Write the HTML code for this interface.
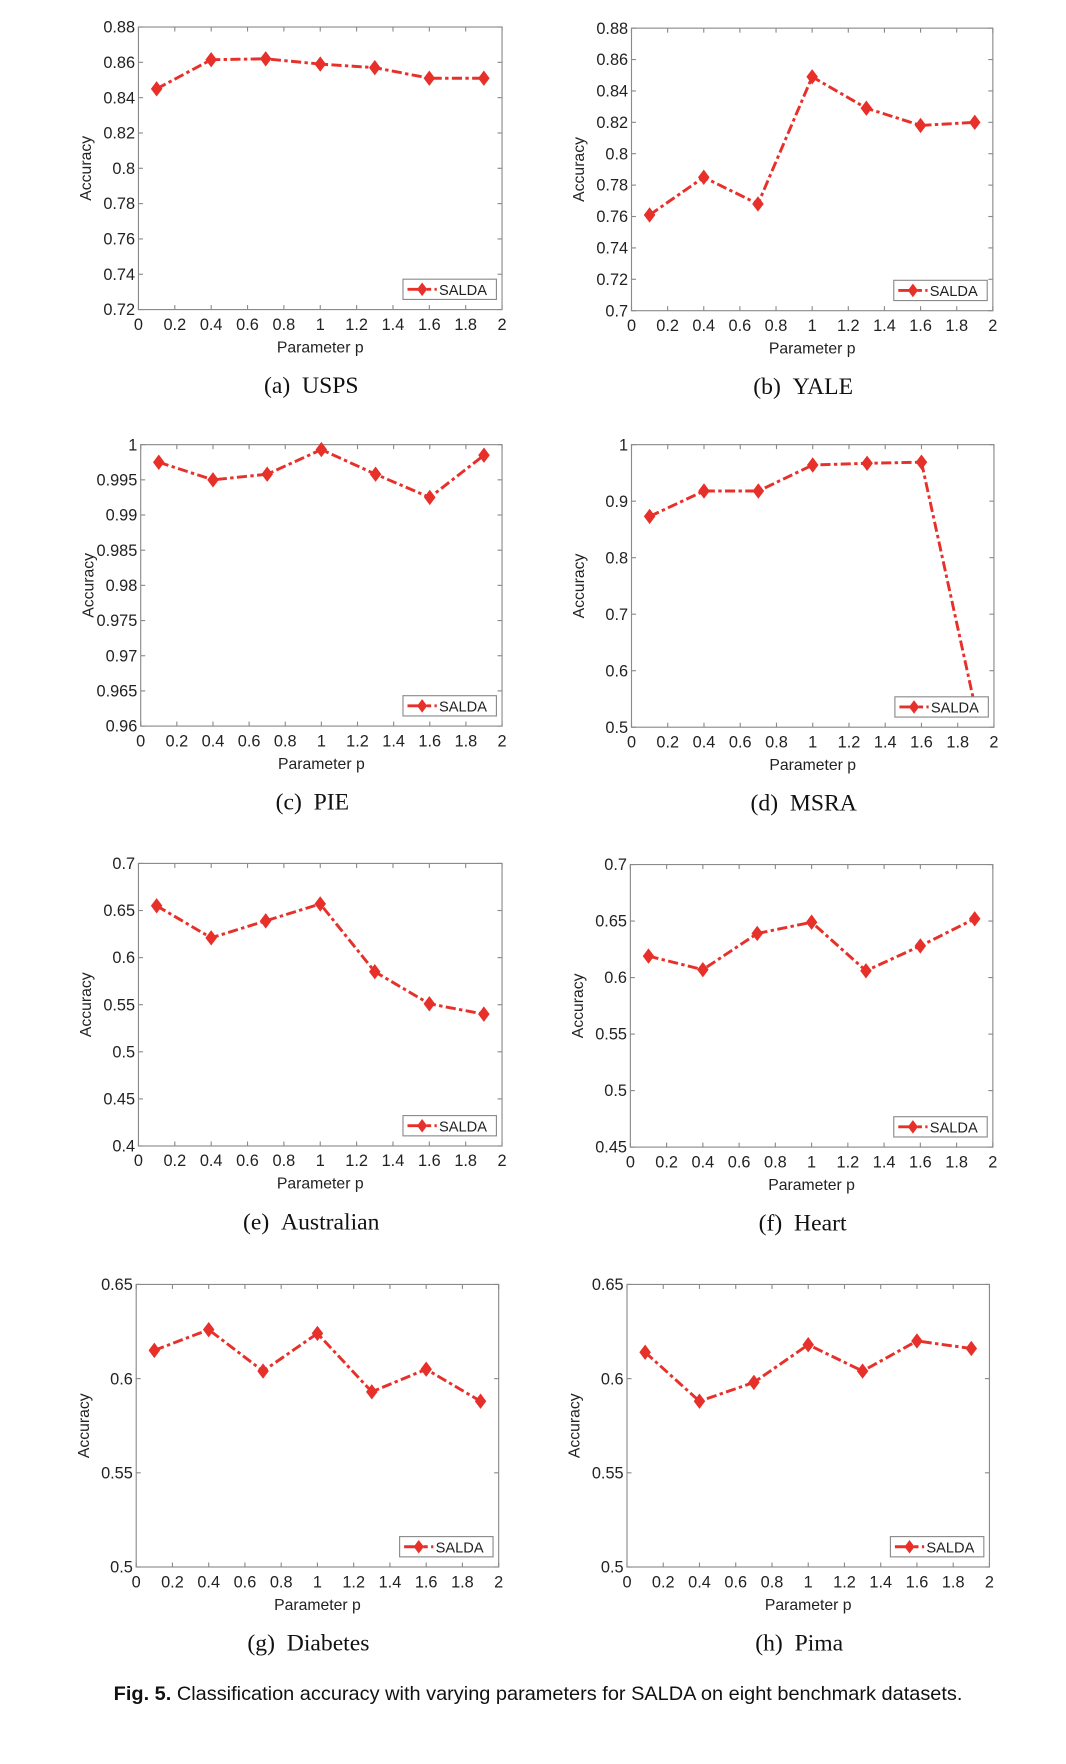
<!DOCTYPE html>
<html><head><meta charset="utf-8"><style>
html,body{margin:0;padding:0;background:#fff}
svg{display:block}
</style></head><body>
<svg id="fig" width="1066" height="1764" viewBox="0 0 947 1567" preserveAspectRatio="none" xmlns="http://www.w3.org/2000/svg">
<text x="101" y="1510" textLength="754" lengthAdjust="spacingAndGlyphs" font-family="'Liberation Sans',sans-serif" font-size="17" fill="#111"><tspan font-weight="bold">Fig. 5.</tspan> Classification accuracy with varying parameters for SALDA on eight benchmark datasets.</text>
</svg>
<script>
const xs = [0.1,0.4,0.7,1.0,1.3,1.6,1.9];
const accUSPS = [0.845,0.8615,0.862,0.859,0.857,0.851,0.851];
const accYALE = [0.761,0.785,0.768,0.849,0.829,0.818,0.820];
const accPIE = [0.9975,0.995,0.9958,0.9993,0.9958,0.9925,0.9985];
const accMSRA = [0.873,0.918,0.918,0.964,0.967,0.969,0.53];
const accAustralian = [0.655,0.621,0.639,0.657,0.585,0.551,0.540];
const accHeart = [0.619,0.607,0.639,0.649,0.606,0.628,0.652];
const accDiabetes = [0.615,0.626,0.604,0.624,0.593,0.605,0.588];
const accPima = [0.614,0.588,0.598,0.618,0.604,0.620,0.616];
const xTicks = [0,0.2,0.4,0.6,0.8,1,1.2,1.4,1.6,1.8,2];
const yTicksA = [0.72,0.74,0.76,0.78,0.8,0.82,0.84,0.86,0.88];
const yTicksB = [0.7,0.72,0.74,0.76,0.78,0.8,0.82,0.84,0.86,0.88];
const yTicksC = [0.96,0.965,0.97,0.975,0.98,0.985,0.99,0.995,1];
const yTicksD = [0.5,0.6,0.7,0.8,0.9,1];
const yTicksE = [0.4,0.45,0.5,0.55,0.6,0.65,0.7];
const yTicksF = [0.45,0.5,0.55,0.6,0.65,0.7];
const yTicksG = [0.5,0.55,0.6,0.65];

const panels = [
 {id:'usps',cap:'(a)\u00a0\u00a0USPS',x0:123,x1:446,y0:24,y1:275,ymin:0.72,ymax:0.88,ticks:yTicksA,data:accUSPS},
 {id:'yale',cap:'(b)\u00a0\u00a0YALE',x0:561,x1:882,y0:25,y1:276,ymin:0.7,ymax:0.88,ticks:yTicksB,data:accYALE},
 {id:'pie',cap:'(c)\u00a0\u00a0PIE',x0:125,x1:446,y0:395,y1:645,ymin:0.96,ymax:1,ticks:yTicksC,data:accPIE},
 {id:'msra',cap:'(d)\u00a0\u00a0MSRA',x0:561,x1:883,y0:395,y1:646,ymin:0.5,ymax:1,ticks:yTicksD,data:accMSRA},
 {id:'australian',cap:'(e)\u00a0\u00a0Australian',x0:123,x1:446,y0:767,y1:1018,ymin:0.4,ymax:0.7,ticks:yTicksE,data:accAustralian},
 {id:'heart',cap:'(f)\u00a0\u00a0Heart',x0:560,x1:882,y0:768,y1:1019,ymin:0.45,ymax:0.7,ticks:yTicksF,data:accHeart},
 {id:'diabetes',cap:'(g)\u00a0\u00a0Diabetes',x0:121,x1:443,y0:1141,y1:1392,ymin:0.5,ymax:0.65,ticks:yTicksG,data:accDiabetes},
 {id:'pima',cap:'(h)\u00a0\u00a0Pima',x0:557,x1:879,y0:1141,y1:1392,ymin:0.5,ymax:0.65,ticks:yTicksG,data:accPima}
];
const NS='http://www.w3.org/2000/svg';
const svg=document.getElementById('fig');
function mk(tag,attrs,parent){const e=document.createElementNS(NS,tag);for(const k in attrs)e.setAttribute(k,attrs[k]);(parent||svg).appendChild(e);return e;}
function fmt(v){return String(+v.toFixed(4));}
const RED='#e8302a';
panels.forEach(p=>{
 const g=mk('g',{});
 
 
 const sx=v=>p.x0+(v-0)/(2-0)*(p.x1-p.x0);
 const sy=v=>p.y1-(v-p.ymin)/(p.ymax-p.ymin)*(p.y1-p.y0);
 const box=mk('rect',{x:p.x0,y:p.y0,width:p.x1-p.x0,height:p.y1-p.y0,fill:'none',stroke:'#8a8a8a','stroke-width':1},g);
 
 
 xTicks.forEach(t=>{
  const x=sx(t);
  mk('line',{x1:x,x2:x,y1:p.y1,y2:p.y1-4,stroke:'#8a8a8a'},g);
  mk('line',{x1:x,x2:x,y1:p.y0,y2:p.y0+4,stroke:'#8a8a8a'},g);
  const tx=mk('text',{x:x,y:p.y1+18,'text-anchor':'middle','font-family':'Liberation Sans,sans-serif','font-size':14.5,fill:'#222'},g);
  tx.textContent=fmt(t);
  
  
 });
 p.ticks.forEach(t=>{
  const y=sy(t);
  mk('line',{x1:p.x0,x2:p.x0+4,y1:y,y2:y,stroke:'#8a8a8a'},g);
  mk('line',{x1:p.x1,x2:p.x1-4,y1:y,y2:y,stroke:'#8a8a8a'},g);
  const tx=mk('text',{x:p.x0-3,y:y+5,'text-anchor':'end','font-family':'Liberation Sans,sans-serif','font-size':14.5,fill:'#222'},g);
  tx.textContent=fmt(t);
  
  
 });
 const xl=mk('text',{x:(p.x0+p.x1)/2,y:p.y1+38,'text-anchor':'middle','font-family':'Liberation Sans,sans-serif','font-size':14,fill:'#222'},g);
 xl.textContent='Parameter p';
 
 
 const cy=(p.y0+p.y1)/2;
 const yl=mk('text',{x:p.x0-42,y:cy,'text-anchor':'middle','font-family':'Liberation Sans,sans-serif','font-size':14,fill:'#222',transform:'rotate(-90 '+(p.x0-42)+' '+cy+')'},g);
 yl.textContent='Accuracy';
 
 
 const pts=xs.map((x,i)=>sx(x)+','+sy(p.data[i])).join(' ');
 const line=mk('polyline',{points:pts,fill:'none',stroke:RED,'stroke-width':2.6,'stroke-dasharray':'9,3,3,3'},g);
 
 
 xs.forEach((x,i)=>{
  const X=sx(x),Y=sy(p.data[i]);
  if(Y>p.y1)return;
  const m=mk('polygon',{points:`${X},${Y-6} ${X+4.5},${Y} ${X},${Y+6} ${X-4.5},${Y}`,fill:RED,stroke:RED,'stroke-width':1},g);
  
  
 });
 const lx=p.x1-88,ly=p.y1-27;
 const lg=mk('g',{},g);
 
 
 mk('rect',{x:lx,y:ly,width:83,height:18,fill:'#fff',stroke:'#8a8a8a'},lg);
 mk('line',{x1:lx+4,x2:lx+30,y1:ly+9,y2:ly+9,stroke:RED,'stroke-width':2.6,'stroke-dasharray':'14,3,4,3'},lg);
 mk('polygon',{points:`${lx+17},${ly+3} ${lx+21.5},${ly+9} ${lx+17},${ly+15} ${lx+12.5},${ly+9}`,fill:RED},lg);
 const lt=mk('text',{x:lx+32,y:ly+14,'font-family':'Liberation Sans,sans-serif','font-size':13,fill:'#222'},lg);
 lt.textContent='SALDA';
 
 
 const cap=mk('text',{x:(p.x0+p.x1)/2-8,y:p.y1+74,'text-anchor':'middle','font-family':'Liberation Serif,serif','font-size':21,fill:'#111'},g);
 cap.textContent=p.cap;
 
 
});
</script>
</body></html>
